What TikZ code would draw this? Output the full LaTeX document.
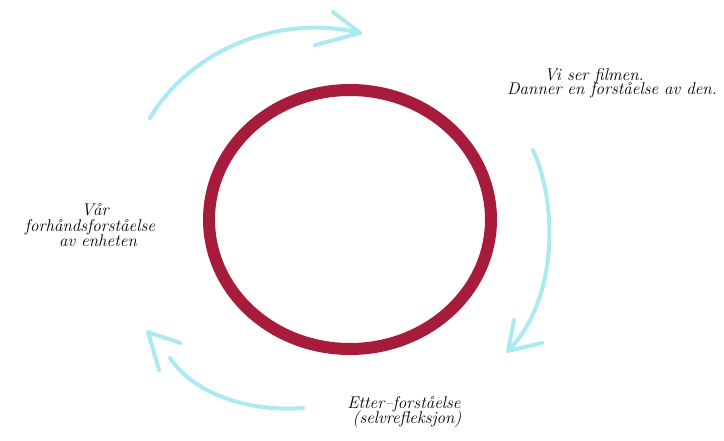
\documentclass[tikz,border=0pt]{standalone}
\usepackage{fontspec}
\definecolor{ringred}{HTML}{A81C3B}
\definecolor{arrcyan}{HTML}{ABEAF0}
\begin{document}
\begin{tikzpicture}[x=1pt,y=-1pt,
  ring/.style={draw=ringred,line width=12pt},
  flow/.style={draw=arrcyan,line width=4pt,line cap=round,line join=round},
  lbl/.style={inner sep=0pt,anchor=base,font=\fontsize{17}{17}\selectfont\itshape}]
\useasboundingbox (0,0) rectangle (724,440);
% ring
\coordinate (c) at (350,219.5);
\draw[ring] (c) ellipse [x radius=141, y radius=129.5];
% top arrow
\coordinate (a1s) at (150,118);
\coordinate (a1t) at (360,33);
\coordinate (a1u) at (333,12);
\coordinate (a1d) at (315,45);
\draw[flow] (a1s) .. controls (190,50) and (280,13) .. (a1t);
\draw[flow] (a1u) -- (a1t) -- (a1d);
% right arrow
\coordinate (a2s) at (533,150);
\coordinate (a2t) at (508,351);
\coordinate (a2u) at (514,320);
\coordinate (a2d) at (542,343);
\draw[flow] (a2s) .. controls (558,205) and (558,300) .. (a2t);
\draw[flow] (a2u) -- (a2t) -- (a2d);
% bottom-left arrow
\coordinate (a3s) at (303,408);
\coordinate (a3e) at (170,358);
\coordinate (a3t) at (148,332);
\coordinate (a3r) at (180,343);
\coordinate (a3d) at (159,370);
\draw[flow] (a3s) .. controls (250,412) and (195,395) .. (a3e);
\draw[flow] (a3r) -- (a3t) -- (a3d);
% labels
\node[lbl] (t1) at (594,80) {Vi ser filmen.};
\node[lbl] (t2) at (612,94) {Danner en forståelse av den.};
\node[lbl] (l1) at (95,215) {Vår};
\node[lbl] (l2) at (90,231) {forhåndsforståelse};
\node[lbl] (l3) at (98,246) {av enheten};
\node[lbl] (b1) at (404,408) {Etter–forståelse};
\node[lbl] (b2) at (407,423) {(selvrefleksjon)};
\end{tikzpicture}
\end{document}
